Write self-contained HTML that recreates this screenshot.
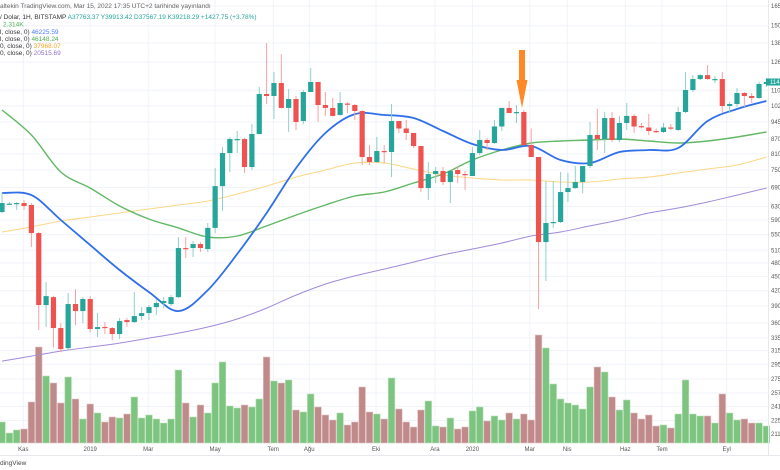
<!DOCTYPE html>
<html><head><meta charset="utf-8">
<style>
html,body{margin:0;padding:0;background:#fff;width:780px;height:470px;overflow:hidden}
svg{display:block;font-family:"Liberation Sans",sans-serif}
</style></head>
<body>
<svg id="chart" width="780" height="470" viewBox="0 0 780 470" xmlns="http://www.w3.org/2000/svg">
<g id="grid"></g>
<g id="vol"></g>
<g id="mas"></g>
<g id="candles"></g>
<g id="axes"></g>
<g>
<rect x="519" y="50" width="6" height="31" fill="#ff8a25"/>
<polygon points="516.5,80 527.5,80 522,108" fill="#ff8a25"/>
</g>
<g font-size="6.5">
<text x="0" y="8" fill="#666">altekin TradingView.com, Mar 15, 2022 17:35 UTC+2 tarihinde yayınlandı</text>
<text x="0" y="19" fill="#333">/ Dolar, 1H, BITSTAMP  <tspan fill="#26a69a">A37763.37  Y39913.42  D37567.19  K39218.29  +1427.75 (+3.78%)</tspan></text>
<text x="3" y="26.5" fill="#4caf50">2.314K</text>
<text x="0" y="34" fill="#333">l, close, 0)  <tspan fill="#4a7dff">46225.59</tspan></text>
<text x="0" y="41" fill="#333">l, close, 0)  <tspan fill="#4caf50">46148.24</tspan></text>
<text x="0" y="48" fill="#333">0, close, 0)  <tspan fill="#f5a623">37968.07</tspan></text>
<text x="0" y="55" fill="#333">0, close, 0)  <tspan fill="#9575cd">20515.69</tspan></text>
</g>
<text x="0" y="465" font-size="6.5" fill="#444">dingView</text>
</svg>
<script>
const opens=[6129,6380,6380,6400,6340,5541,3921,4073,3511,3188,3940,3809,4036,3494,3530,3511,3411,3648,3613,3719,3773,3883,3959,3940,4073,5156,5156,5256,5131,5680,6942,8137,8680,8703,7608,8916,10805,10702,11391,10106,10548,9490,10909,11446,10248,10106,9771,10320,10248,9957,7983,7793,8216,8177,9490,9155,8960,8416,6877,7357,7464,7079,7500,7357,7287,8137,8662,8538,9244,10106,9890,9909,8456,7983,5306,5814,5842,6747,6877,7079,7645,8874,8703,9627,8662,9400,9725,9260,9200,9045,9002,9200,9090,9909,11014,11610,11830,11580,11610,10199,10298,10857,10702,10600,11337];
const highs=[6715,6431,6431,6490,6400,5568,4379,4100,3596,4153,4233,4073,4093,3773,3613,3528,3684,3684,4173,3883,3921,4036,4073,4113,5436,5436,5332,5300,5814,7571,8375,8787,9045,8750,9355,11175,13800,12009,13090,11067,10702,11014,12250,11446,10909,10600,10909,10397,10298,10000,8456,8787,8456,10298,9490,9535,8960,8416,7793,7608,7608,7464,7608,7464,8375,9090,8745,9535,10106,10447,10248,10007,9155,7983,7113,7113,7428,7392,7645,7645,9445,10056,9909,9909,9725,10347,9816,9400,9816,9155,9400,9355,10150,12009,11830,11890,12420,11780,12009,10397,11120,10909,10857,11446,11670];
const lows=[6100,6340,6190,6190,5180,3477,3528,3197,3128,3150,3562,3596,3444,3362,3411,3314,3330,3528,3596,3648,3648,3737,3864,3902,4054,4914,4938,5058,5058,5541,6159,7428,8137,7392,7500,8900,10298,9580,10080,9002,9090,9355,10909,9445,9725,9700,9725,9860,9535,7681,7681,7756,7756,7250,8960,8662,8337,6747,6493,7045,6976,6400,7045,6812,7287,8060,8256,8500,9045,9860,9400,8456,7983,3846,4400,5680,5814,6431,6850,6715,7571,8256,8137,8579,8579,9090,8960,9155,8874,8960,8960,9090,9045,9860,10909,11560,11560,11391,9860,9860,10150,10150,10347,10548,11175];
const closes=[6400,6380,6400,6310,5541,3921,4093,3511,3173,3940,3809,4036,3494,3528,3515,3411,3631,3613,3719,3773,3883,3959,3997,4073,5156,5130,5256,5156,5680,6942,8137,8703,8703,7608,8916,10805,10702,11391,10106,10548,9445,10909,11446,10248,10106,9725,10347,10298,9957,7983,7793,8216,8180,9490,9155,8960,8416,6877,7357,7464,7079,7464,7357,7330,8137,8662,8538,9244,10106,9860,9909,8456,7983,5306,5814,5842,6747,6877,7079,7645,8874,8703,9627,8662,9400,9725,9244,9244,9045,9002,9200,9155,9909,11014,11610,11830,11610,11610,10199,10298,10857,10702,10600,11337,11446];
const volumes=[21,10,13,14,41,96,67,60,40,66,44,24,39,30,21,26,25,29,46,25,28,24,20,24,73,40,26,38,30,60,81,37,35,38,36,44,86,62,60,63,33,31,49,36,28,23,30,18,21,56,31,29,24,65,34,21,16,33,42,17,16,25,14,16,32,36,22,27,23,30,24,29,23,108,95,59,44,40,38,34,56,76,71,46,33,43,30,24,28,17,18,15,29,63,29,27,27,20,49,30,23,24,20,20,17];
const maIdx=[0,4,8,12,16,20,24,28,32,36,40,44,48,52,56,60,64,68,72,76,80,84,88,92,96,100,104];
const ma20=[6715,6650,5900,5230,4640,4173,3809,4213,5010,6100,7571,8960,9810,9770,9627,9045,8497,8256,8416,7870,7756,8177,8256,8337,9490,10056,10447];
const ma50=[10005,8874,7428,6877,6310,5926,5680,5436,5462,5734,6040,6340,6620,6747,7045,7357,7870,8256,8538,8620,8662,8703,8620,8538,8620,8787,9002];
const ma100=[5568,5708,5870,5985,6100,6220,6340,6462,6683,6942,7250,7500,7756,7756,7537,7322,7218,7149,7149,7079,7079,7183,7250,7392,7537,7681,7983];
const ma200=[2995,3068,3143,3204,3266,3345,3426,3528,3666,3864,4113,4336,4510,4660,4820,4988,5131,5281,5462,5568,5734,5899,6100,6250,6431,6650,6877];
const priceTicks=[16500,15000,13800,12600,11000,10200,9450,8700,8100,7500,6900,6300,5900,5500,5100,4800,4500,4200,3900,3600,3350,3150,2950,2750,2570,2410,2250,2110];
const priceTickLabels=["165","150","138","126","110","102","945","870","810","750","690","630","590","550","510","480","450","420","390","360","335","315","295","275","257","241","225","211"];
const monthIdx=[2.9,12,19.9,29,36.9,41.8,50.9,58.9,64,71.8,76.9,84.8,89.8,98.6];
const monthLabels=["Kas","2019","Mar","May","Tem","Ağu","Eki","Ara","2020","Mar","Nis","Haz","Tem","Eyl"];

const NS="http://www.w3.org/2000/svg";
const PLOT_R=768, VOL_BASE=443;
function xOf(i){return 2+7.35*i;}
function yOf(p){return 62+208.2*Math.log(12600/p);}
function vOf(v){return VOL_BASE-v;}
function mk(tag,attrs,parent){const e=document.createElementNS(NS,tag);for(const k in attrs)e.setAttribute(k,attrs[k]);parent.appendChild(e);return e;}
function smoothPath(pts){
  let d='M'+pts[0][0].toFixed(1)+','+pts[0][1].toFixed(1);
  for(let i=0;i<pts.length-1;i++){
    const p0=pts[Math.max(0,i-1)],p1=pts[i],p2=pts[i+1],p3=pts[Math.min(pts.length-1,i+2)];
    const c1x=p1[0]+(p2[0]-p0[0])/6,c1y=p1[1]+(p2[1]-p0[1])/6;
    const c2x=p2[0]-(p3[0]-p1[0])/6,c2y=p2[1]-(p3[1]-p1[1])/6;
    d+=' C'+c1x.toFixed(1)+','+c1y.toFixed(1)+' '+c2x.toFixed(1)+','+c2y.toFixed(1)+' '+p2[0].toFixed(1)+','+p2[1].toFixed(1);
  }
  return d;
}

const grid=document.getElementById('grid');
priceTicks.forEach((p,k)=>{
  const l=mk('line',{x1:0,x2:PLOT_R,y1:yOf(p),y2:yOf(p),stroke:'#f0f3fa','stroke-width':1},grid);
  
  
});
monthIdx.forEach(m=>{
  const l=mk('line',{x1:xOf(m),x2:xOf(m),y1:0,y2:VOL_BASE,stroke:'#f0f3fa','stroke-width':1},grid);
  
  
});

const vol=document.getElementById('vol');
volumes.forEach((v,i)=>{
  const up=closes[i]>=opens[i];
  const r=mk('rect',{x:xOf(i)-3.3,y:vOf(v),width:6.6,height:VOL_BASE-vOf(v),fill:up?'#7cc47f':'#c08a8b',stroke:up?'#b9e0ba':'#e2c4c5','stroke-width':0.6},vol);
  
  
});

const mas=document.getElementById('mas');
[[ma200,'#a28ad9',1],[ma100,'#fcd88a',1.1],[ma50,'#62b865',1.4],[ma20,'#2f6fe8',1.8]].forEach(([arr,col,w],k)=>{
  const pts=arr.map((p,j)=>[xOf(maIdx[j]),yOf(p)]);
  const pl=mk('path',{d:smoothPath(pts),fill:'none',stroke:col,'stroke-width':w,'stroke-linejoin':'round'},mas);
  
  
});

const cg=document.getElementById('candles');
opens.forEach((o,i)=>{
  const c=closes[i],up=c>=o,x=xOf(i);
  const col=up?'#26a69a':'#ef5350', wcol=up?'#8fd0c8':'#f5a3a2';
  const g=mk('g',{},cg);
  
  
  mk('line',{x1:x,x2:x,y1:yOf(highs[i]),y2:yOf(lows[i]),stroke:wcol,'stroke-width':1},g);
  const yt=yOf(Math.max(o,c)),yb=yOf(Math.min(o,c));
  mk('rect',{x:x-2.6,y:yt,width:5.2,height:Math.max(1.2,yb-yt),fill:col},g);
});

const ax=document.getElementById('axes');
mk('line',{x1:PLOT_R+0.5,x2:PLOT_R+0.5,y1:0,y2:455,stroke:'#e6e8ee'},ax);
mk('line',{x1:0,x2:780,y1:455.5,y2:455.5,stroke:'#e6e8ee'},ax);
priceTicks.forEach((p,k)=>{
  const t=mk('text',{x:771,y:yOf(p)+2,'font-size':6,fill:'#555'},ax);
  t.textContent=priceTickLabels[k];
  
  
});
monthIdx.forEach((m,k)=>{
  const t=mk('text',{x:xOf(m),y:451,'font-size':6,fill:'#555','text-anchor':'middle'},ax);
  t.textContent=monthLabels[k];
  
  
});
const last=closes[closes.length-1];
const box=mk('rect',{x:766,y:yOf(last)-3.5,width:14,height:7,fill:'#26a69a'},ax);


const bt=mk('text',{x:770,y:yOf(last)+2,'font-size':6,fill:'#fff'},ax);
bt.textContent=String(Math.floor(last/100));


</script>
</body></html>
